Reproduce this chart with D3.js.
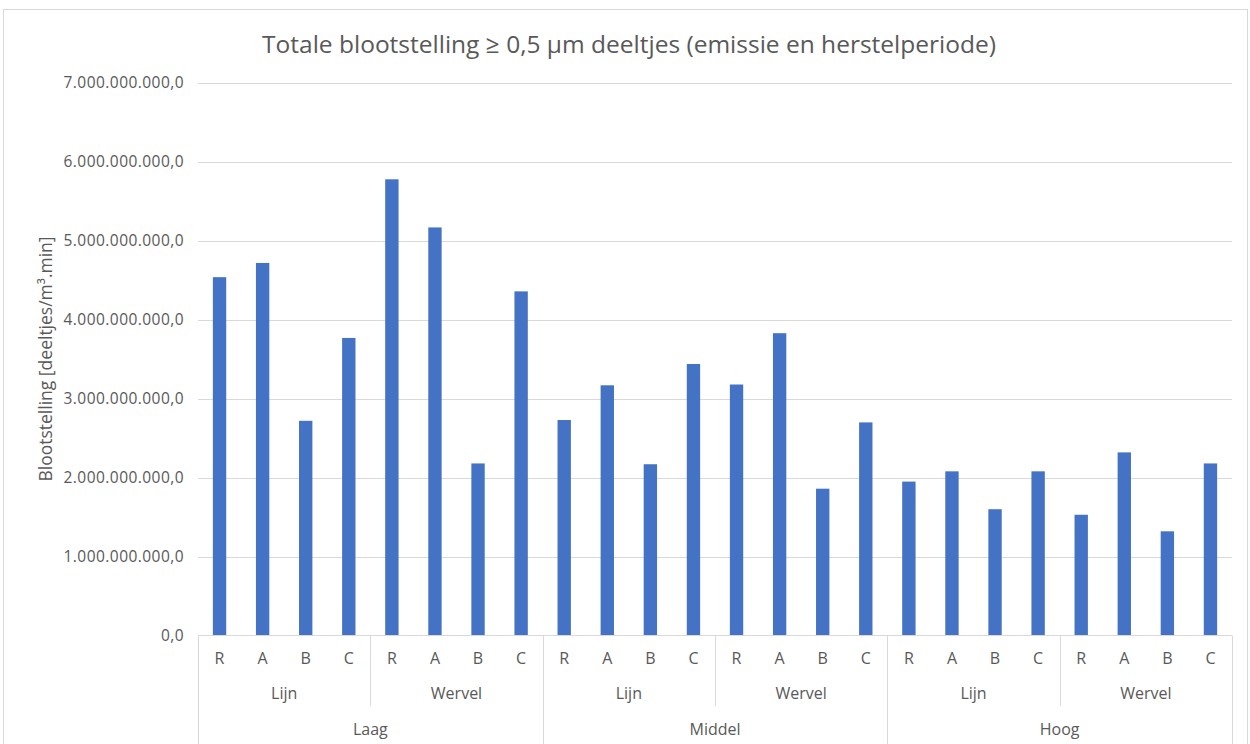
<!DOCTYPE html>
<html><head><meta charset="utf-8">
<script src="https://cdn.jsdelivr.net/npm/d3@7"></script>
<style>
html,body{margin:0;padding:0;background:#fff;}
text{font-family:"Open Sans","Noto Sans",sans-serif;fill:#595959;}
</style></head>
<body><svg id="chart" width="1250" height="744"></svg>
<script>
const title = "Totale blootstelling ≥ 0,5 µm deeltjes (emissie en herstelperiode)";
const yTitle = "Blootstelling [deeltjes/m³.min]";
const levels = ["Laag", "Middel", "Hoog"];
const methods = ["Lijn", "Wervel"];
const positions = ["R", "A", "B", "C"];
// values per level, method, position (R, A, B, C)
const laagLijn     = [4.54e9, 4.72e9, 2.72e9, 3.77e9];
const laagWervel   = [5.78e9, 5.17e9, 2.18e9, 4.36e9];
const middelLijn   = [2.73e9, 3.17e9, 2.17e9, 3.44e9];
const middelWervel = [3.18e9, 3.83e9, 1.86e9, 2.70e9];
const hoogLijn     = [1.95e9, 2.08e9, 1.60e9, 2.08e9];
const hoogWervel   = [1.53e9, 2.32e9, 1.32e9, 2.18e9];
const yTicks = [0, 1e9, 2e9, 3e9, 4e9, 5e9, 6e9, 7e9];

const seriesByGroup = [[laagLijn, laagWervel], [middelLijn, middelWervel], [hoogLijn, hoogWervel]];
const data = [];
levels.forEach((lv, i) => methods.forEach((m, j) => positions.forEach((p, k) => {
  data.push({id: lv + "|" + m + "|" + p, level: lv, method: m, pos: p, value: seriesByGroup[i][j][k]});
})));

const svg = d3.select("#chart");
const L = 198, R = 1232, T = 83, B = 635.5;
const FF = '"Open Sans","Noto Sans",sans-serif';

// chart frame
svg.append("rect").attr("x", 3.5).attr("y", 9.5).attr("width", 1244).attr("height", 760)
  .attr("fill", "none").attr("stroke", "#d9d9d9").attr("stroke-width", 1);

const x = d3.scaleBand().domain(data.map(d => d.id)).range([L, R]).paddingInner(0.69).paddingOuter(0.345);
const y = d3.scaleLinear().domain([0, 7e9]).range([B, T]);

const loc = d3.formatLocale({decimal: ",", thousands: ".", grouping: [3], currency: ["", ""]});
const fmt = loc.format(",.1f");

// gridlines
svg.append("g").selectAll("line").data(yTicks.slice(1)).join("line")
  .attr("x1", L).attr("x2", R).attr("y1", d => Math.round(y(d)) + 0.5).attr("y2", d => Math.round(y(d)) + 0.5)
  .attr("stroke", "#d9d9d9").attr("stroke-width", 1);

// y axis labels
const yAxis = d3.axisLeft(y).tickValues(yTicks).tickFormat(fmt).tickSize(0).tickPadding(14);
const gy = svg.append("g").attr("transform", `translate(${L},0)`).call(yAxis);
gy.select(".domain").remove();
gy.selectAll("text").attr("font-size", 15.5).attr("fill", "#595959")
  .attr("letter-spacing", 0.45).style("font-family", FF);

// bars
svg.append("g").selectAll("rect").data(data).join("rect")
  .attr("x", d => x(d.id)).attr("width", x.bandwidth())
  .attr("y", d => y(d.value)).attr("height", d => y(0) - y(d.value))
  .attr("fill", "#4472C4");

// x axis baseline
svg.append("line").attr("x1", L).attr("x2", R).attr("y1", 635.5).attr("y2", 635.5)
  .attr("stroke", "#d9d9d9").attr("stroke-width", 1);

// level 1 labels
const gx = svg.append("g").attr("transform", `translate(0,${B})`)
  .call(d3.axisBottom(x).tickSize(0).tickPadding(0).tickFormat(id => id.split("|")[2]));
gx.select(".domain").remove();
gx.selectAll("text").attr("dy", null).attr("y", 28.5).attr("font-size", 16).attr("fill", "#595959")
  .style("font-family", FF);

// level 2 labels
const step = x.step();
const groupW = step * positions.length;
const mid = [];
levels.forEach((lv, i) => methods.forEach((m, j) => {
  mid.push({level: lv, method: m, x0: L + (i * methods.length + j) * groupW});
}));
svg.append("g").selectAll("text").data(mid).join("text")
  .attr("x", d => d.x0 + groupW / 2).attr("y", 699).attr("text-anchor", "middle")
  .attr("font-size", 16).text(d => d.method);
// inner separators
svg.append("g").selectAll("line").data(mid.filter((d, i) => i % 2 === 1)).join("line")
  .attr("x1", d => Math.round(d.x0) + 0.5).attr("x2", d => Math.round(d.x0) + 0.5)
  .attr("y1", B).attr("y2", 706).attr("stroke", "#d9d9d9");

// level 3 labels
const lvW = groupW * methods.length;
const lvl = levels.map((lv, i) => ({level: lv, x0: L + i * lvW}));
svg.append("g").selectAll("text").data(lvl).join("text")
  .attr("x", d => d.x0 + lvW / 2).attr("y", 735).attr("text-anchor", "middle")
  .attr("font-size", 16).text(d => d.level);
svg.append("g").selectAll("line").data(lvl.map(d => d.x0).concat([R])).join("line")
  .attr("x1", d => Math.round(d) + 0.5).attr("x2", d => Math.round(d) + 0.5)
  .attr("y1", B).attr("y2", 744).attr("stroke", "#d9d9d9");

// title
svg.append("text").attr("x", 629).attr("y", 53).attr("text-anchor", "middle")
  .attr("font-size", 24.5).text(title);

// y title
svg.append("text").attr("transform", "translate(52,359) rotate(-90)").attr("text-anchor", "middle")
  .attr("font-size", 17.5).text(yTitle);
</script></body></html>
